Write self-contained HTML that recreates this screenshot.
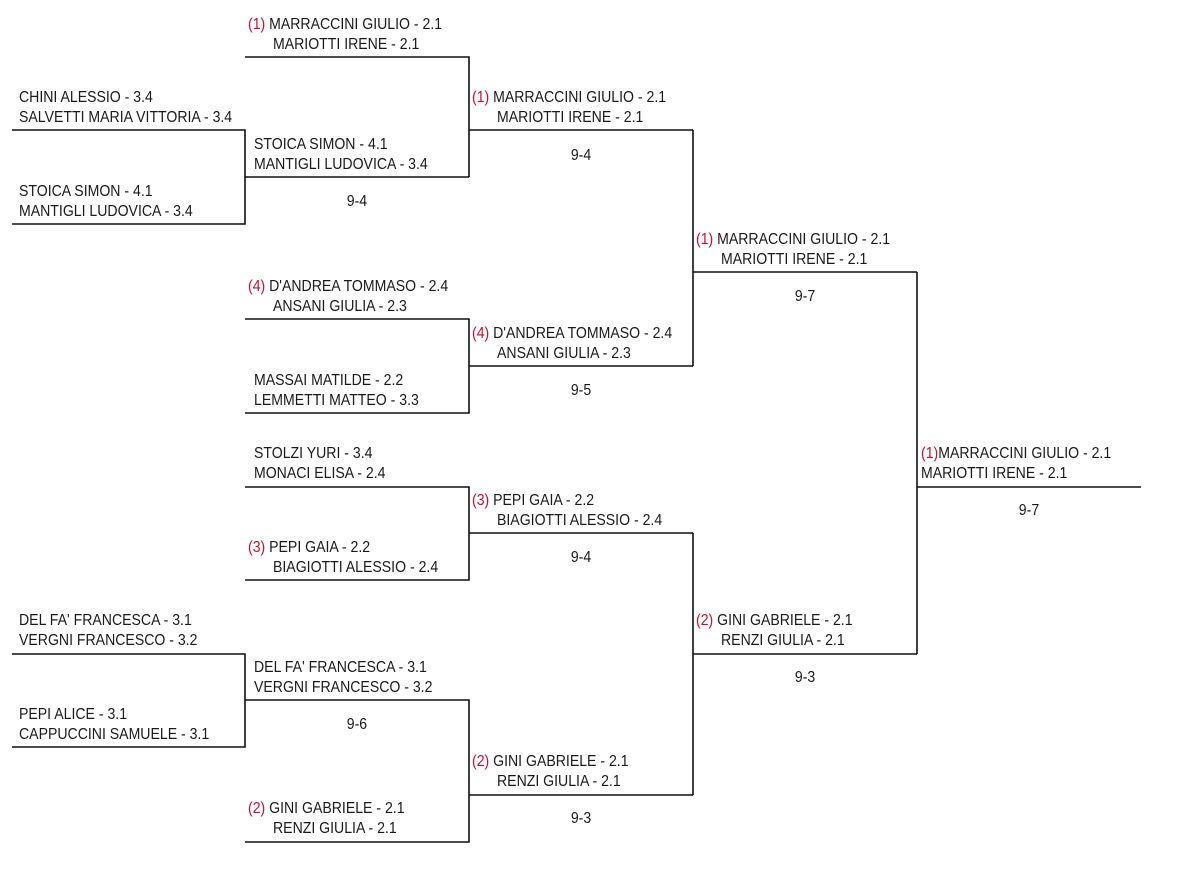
<!DOCTYPE html>
<html><head><meta charset="utf-8"><style>
html,body{margin:0;padding:0;background:#fff;width:1200px;height:880px;overflow:hidden}
svg text{font-family:"Liberation Sans Narrow","Liberation Sans",sans-serif;font-size:15.5px;fill:#1a1a1a}
.r{fill:#c8102e}
</style></head><body>
<svg width="1200" height="880" viewBox="0 0 1200 880">
<g stroke="#111" stroke-width="1.6" fill="none">
<path d="M12 130H245V224H12"/>
<path d="M245 177H469"/>
<path d="M245 57H469V177"/>
<path d="M469 130H693"/>
<path d="M245 319H469V413H245"/>
<path d="M469 366H693"/>
<path d="M693 130V366"/>
<path d="M693 272H917"/>
<path d="M245 487H469V580H245"/>
<path d="M469 533H693"/>
<path d="M12 654H245V747H12"/>
<path d="M245 700H469V842H245"/>
<path d="M469 795H693"/>
<path d="M693 533V795"/>
<path d="M693 654H917"/>
<path d="M917 272V654"/>
<path d="M917 487H1141"/>
</g>
<g>
<text transform="translate(248,29) scale(0.91,1)"><tspan class="r">(1)</tspan> MARRACCINI GIULIO - 2.1</text>
<text transform="translate(273,49) scale(0.91,1)">MARIOTTI IRENE - 2.1</text>

<text transform="translate(19,102) scale(0.91,1)">CHINI ALESSIO - 3.4</text>
<text transform="translate(19,122) scale(0.91,1)">SALVETTI MARIA VITTORIA - 3.4</text>
<text transform="translate(19,196) scale(0.91,1)">STOICA SIMON - 4.1</text>
<text transform="translate(19,216) scale(0.91,1)">MANTIGLI LUDOVICA - 3.4</text>

<text transform="translate(254,149) scale(0.91,1)">STOICA SIMON - 4.1</text>
<text transform="translate(254,169) scale(0.91,1)">MANTIGLI LUDOVICA - 3.4</text>
<text x="357" y="206" text-anchor="middle" transform="translate(32.1,0) scale(0.91,1)">9-4</text>

<text transform="translate(472,102) scale(0.91,1)"><tspan class="r">(1)</tspan> MARRACCINI GIULIO - 2.1</text>
<text transform="translate(497,122) scale(0.91,1)">MARIOTTI IRENE - 2.1</text>
<text x="581" y="160" text-anchor="middle" transform="translate(52.3,0) scale(0.91,1)">9-4</text>

<text transform="translate(248,291) scale(0.91,1)"><tspan class="r">(4)</tspan> D'ANDREA TOMMASO - 2.4</text>
<text transform="translate(273,311) scale(0.91,1)">ANSANI GIULIA - 2.3</text>
<text transform="translate(254,385) scale(0.91,1)">MASSAI MATILDE - 2.2</text>
<text transform="translate(254,405) scale(0.91,1)">LEMMETTI MATTEO - 3.3</text>

<text transform="translate(472,338) scale(0.91,1)"><tspan class="r">(4)</tspan> D'ANDREA TOMMASO - 2.4</text>
<text transform="translate(497,358) scale(0.91,1)">ANSANI GIULIA - 2.3</text>
<text x="581" y="395" text-anchor="middle" transform="translate(52.3,0) scale(0.91,1)">9-5</text>

<text transform="translate(696,244) scale(0.91,1)"><tspan class="r">(1)</tspan> MARRACCINI GIULIO - 2.1</text>
<text transform="translate(721,264) scale(0.91,1)">MARIOTTI IRENE - 2.1</text>
<text x="805" y="301" text-anchor="middle" transform="translate(72.5,0) scale(0.91,1)">9-7</text>

<text transform="translate(254,458) scale(0.91,1)">STOLZI YURI - 3.4</text>
<text transform="translate(254,478) scale(0.91,1)">MONACI ELISA - 2.4</text>
<text transform="translate(248,552) scale(0.91,1)"><tspan class="r">(3)</tspan> PEPI GAIA - 2.2</text>
<text transform="translate(273,572) scale(0.91,1)">BIAGIOTTI ALESSIO - 2.4</text>

<text transform="translate(472,505) scale(0.91,1)"><tspan class="r">(3)</tspan> PEPI GAIA - 2.2</text>
<text transform="translate(497,525) scale(0.91,1)">BIAGIOTTI ALESSIO - 2.4</text>
<text x="581" y="562" text-anchor="middle" transform="translate(52.3,0) scale(0.91,1)">9-4</text>

<text transform="translate(19,625) scale(0.91,1)">DEL FA' FRANCESCA - 3.1</text>
<text transform="translate(19,645) scale(0.91,1)">VERGNI FRANCESCO - 3.2</text>
<text transform="translate(19,719) scale(0.91,1)">PEPI ALICE - 3.1</text>
<text transform="translate(19,739) scale(0.91,1)">CAPPUCCINI SAMUELE - 3.1</text>

<text transform="translate(254,672) scale(0.91,1)">DEL FA' FRANCESCA - 3.1</text>
<text transform="translate(254,692) scale(0.91,1)">VERGNI FRANCESCO - 3.2</text>
<text x="357" y="729" text-anchor="middle" transform="translate(32.1,0) scale(0.91,1)">9-6</text>

<text transform="translate(248,813) scale(0.91,1)"><tspan class="r">(2)</tspan> GINI GABRIELE - 2.1</text>
<text transform="translate(273,833) scale(0.91,1)">RENZI GIULIA - 2.1</text>

<text transform="translate(472,766) scale(0.91,1)"><tspan class="r">(2)</tspan> GINI GABRIELE - 2.1</text>
<text transform="translate(497,786) scale(0.91,1)">RENZI GIULIA - 2.1</text>
<text x="581" y="823" text-anchor="middle" transform="translate(52.3,0) scale(0.91,1)">9-3</text>

<text transform="translate(696,625) scale(0.91,1)"><tspan class="r">(2)</tspan> GINI GABRIELE - 2.1</text>
<text transform="translate(721,645) scale(0.91,1)">RENZI GIULIA - 2.1</text>
<text x="805" y="682" text-anchor="middle" transform="translate(72.5,0) scale(0.91,1)">9-3</text>

<text transform="translate(921,458) scale(0.91,1)"><tspan class="r">(1)</tspan>MARRACCINI GIULIO - 2.1</text>
<text transform="translate(921,478) scale(0.91,1)">MARIOTTI IRENE - 2.1</text>
<text x="1029" y="515" text-anchor="middle" transform="translate(92.6,0) scale(0.91,1)">9-7</text>
</g>
</svg>
</body></html>
